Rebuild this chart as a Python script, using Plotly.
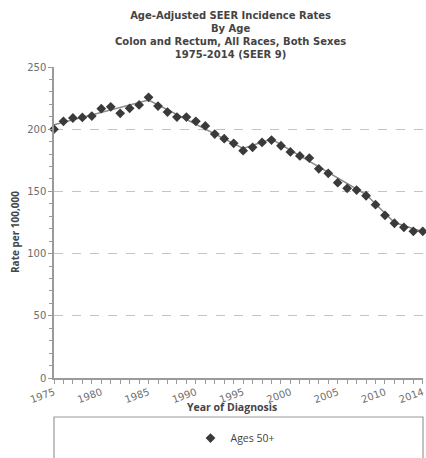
import plotly.graph_objects as go

# ---- data ----
years = list(range(1975, 2015))
rates_50plus = [200.0, 206.3, 209.0, 209.5, 210.6, 216.5, 218.0, 212.8, 216.8, 219.5,
                225.6, 218.6, 213.8, 209.8, 209.8, 206.3, 202.6, 196.1, 192.4, 188.7,
                182.7, 185.4, 189.4, 191.3, 186.7, 181.7, 178.5, 176.8, 168.2, 164.5,
                157.0, 152.5, 151.1, 146.5, 139.3, 130.8, 124.4, 121.1, 117.9, 117.9]

# joinpoint trend (fitted segment endpoints)
trend_years = [1975, 1985, 1995, 1998, 2008, 2011, 2014]
trend_rates = [203.5, 223.5, 184.5, 192.0, 147.5, 125.0, 117.5]

x_tick_vals = [1975, 1980, 1985, 1990, 1995, 2000, 2005, 2010, 2014]
x_tick_text = ["1975", "1980", "1985", "1990", "1995", "2000", "2005", "2010", "2014"]
y_tick_vals = [0, 50, 100, 150, 200, 250]
y_grid_vals = [50, 100, 150, 200]
y_minor_vals = [v for v in range(0, 251, 10) if v % 50 != 0]

title_lines = ["Age-Adjusted SEER Incidence Rates", "By Age",
               "Colon and Rectum, All Races, Both Sexes", "1975-2014 (SEER 9)"]
series_name = "Ages 50+"

FONT = "DejaVu Sans"
FONT2 = "Open Sans"
TXT = "#444444"
TICK = "#6e6e6e"
AX = "#9a9a9a"

fig = go.Figure()

fig.add_trace(go.Scatter(
    x=trend_years, y=trend_rates, mode="lines",
    line=dict(color="#8a8a8a", width=1.5),
    showlegend=False, hoverinfo="skip", cliponaxis=False))

fig.add_trace(go.Scatter(
    x=years, y=rates_50plus, mode="markers", name=series_name,
    marker=dict(symbol="diamond", size=7.5, color="#3a3a3a",
                line=dict(width=0)), cliponaxis=False))

# overlay axis only for dashed gridlines
fig.add_trace(go.Scatter(x=[years[0]], y=[0], yaxis="y2", mode="markers",
                         marker=dict(opacity=0), showlegend=False, hoverinfo="skip"))

fig.update_layout(
    width=426, height=458,
    margin=dict(l=54, r=3, t=67, b=80, autoexpand=False),
    paper_bgcolor="white", plot_bgcolor="white",
    font=dict(family=FONT, color=TXT, size=10),
    showlegend=True,
    legend=dict(x=(235 - 54) / 369, xanchor="center", y=-0.193, yanchor="middle",
                orientation="h", font=dict(family=FONT2, size=10.5, color=TXT),
                bgcolor="rgba(0,0,0,0)", itemwidth=30),
    xaxis=dict(
        range=[years[0], years[-1] + 0.02], automargin=False,
        tickmode="array", tickvals=x_tick_vals, ticktext=x_tick_text,
        tickangle=-20, ticks="outside", ticklen=4, tickcolor=AX, tickwidth=1,
        ticklabelstandoff=-1,
        tickfont=dict(family=FONT, size=10, color=TICK),
        minor=dict(tickmode="array", tickvals=years, ticks="outside",
                   ticklen=4, tickcolor=AX, showgrid=False),
        showline=True, linecolor=AX, linewidth=1.5,
        showgrid=False, zeroline=False),
    yaxis=dict(
        range=[0, 250], automargin=False,
        tickmode="array", tickvals=y_tick_vals,
        ticks="outside", ticklen=4, tickcolor=AX,
        tickfont=dict(family=FONT, size=10, color=TICK),
        minor=dict(tickmode="array", tickvals=y_minor_vals, ticks="outside",
                   ticklen=3, tickcolor=AX, showgrid=False),
        showline=True, linecolor=AX, linewidth=1.5,
        showgrid=False, zeroline=False),
    yaxis2=dict(
        range=[0, 250], overlaying="y", side="left", automargin=False,
        tickmode="array", tickvals=y_grid_vals, showticklabels=False,
        ticks="", showgrid=True, gridcolor="#c4c4c4", griddash="dash",
        gridwidth=1, showline=False, zeroline=False),
)

# title (one block, four lines)
fig.add_annotation(text="<br>".join(f"<b>{t}</b>" for t in title_lines),
                   xref="paper", yref="paper",
                   x=(230 - 54) / 369, y=(378 - 35.4) / 311,
                   xanchor="center", yanchor="middle", showarrow=False,
                   align="center", font=dict(family=FONT, size=10, color=TXT))

# axis titles
fig.add_annotation(text="<b>Year of Diagnosis</b>", xref="paper", yref="paper",
                   x=(231.5 - 54) / 369, y=(378 - 407) / 311,
                   xanchor="center", yanchor="middle", showarrow=False,
                   font=dict(family=FONT2, size=10.5, color=TXT))
fig.add_annotation(text="<b>Rate per 100,000</b>", xref="paper", yref="paper",
                   x=(15 - 54) / 369, y=(378 - 232) / 311, textangle=-90,
                   xanchor="center", yanchor="middle", showarrow=False,
                   font=dict(family=FONT2, size=10, color=TXT))

# legend frame
fig.add_shape(type="rect", xref="paper", yref="paper",
              x0=0, x1=1, y0=(378 - 417) / 311, y1=(378 - 470) / 311,
              line=dict(color="#9a9a9a", width=1.2), fillcolor="rgba(0,0,0,0)")

fig.write_html("out.html",
               config={"displayModeBar": False},
               post_script="document.body.style.margin='0';"
                           "document.body.style.overflow='hidden';")
